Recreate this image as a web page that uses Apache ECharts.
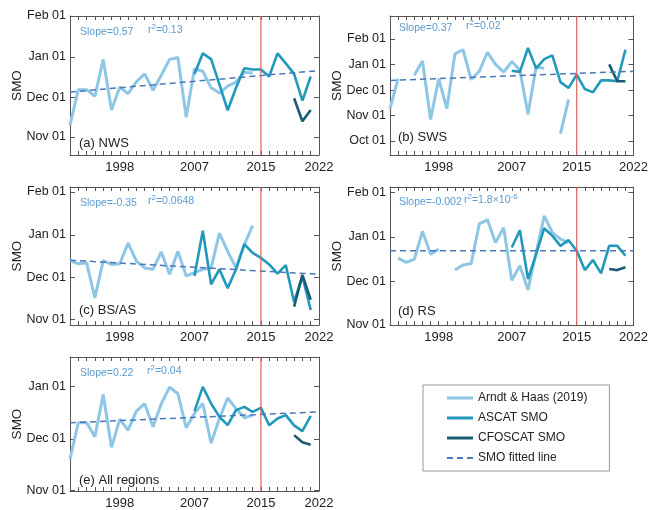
<!DOCTYPE html>
<html>
<head>
<meta charset="utf-8">
<script src="https://cdn.jsdelivr.net/npm/echarts@6/dist/echarts.min.js"></script>
<style>
html,body{margin:0;padding:0;background:#fff;}
#chart{width:651px;height:510px;}
</style>
</head>
<body>
<div id="chart"></div>
<script>
// ---------------- DATA ----------------
const ahYears = [1992,1993,1994,1995,1996,1997,1998,1999,2000,2001,2002,2003,2004,2005,2006,2007,2008,2009,2010,2011,2012,2013,2014];
const ascatYears = [2007,2008,2009,2010,2011,2012,2013,2014,2015,2016,2017,2018,2019,2020,2021];
const cfoYears = [2019,2020,2021];
const fitYears = [1992,2022];
const xLabelYears = [1998,2007,2015,2022];
const tickYears = [1992,1993,1994,1995,1996,1997,1998,1999,2000,2001,2002,2003,2004,2005,2006,2007,2008,2009,2010,2011,2012,2013,2014,2015,2016,2017,2018,2019,2020,2021,2022];
const breakYear = 2015;

// SMO as day of year (Oct 01 = 274 ... Feb 01 = 397)
const monthTicks = [274,305,335,366,397];
const monthLabels = ['Oct 01','Nov 01','Dec 01','Jan 01','Feb 01'];

// (a) NWS
const ahNWS = [314,341,341,336,364,325.5,343,338,347,353,340.5,352,364,365.5,320,356.8,355,342.4,338.4,343.7,346.8,354.2,353.7];
const ascatNWS = [352.9,368.6,364.2,345,325.3,342.4,357.3,356.3,356.3,351,368.6,361,353,332.7,351];
const cfoNWS = [334.5,317,325.5];
const fitNWS = [339.2,355.5];
// (b) SWS
const ahSWS = [312.9,349,null,353.2,370.5,299.8,349,312.9,379,384,348,358,381,366.4,357,369.7,359.4,306.2,363.5,361.5,null,282.8,324];
const ascatSWS = [358.6,357.3,386.2,361.5,372.6,377.2,344.9,337.9,354,336.6,332.6,347,347,346,384];
const cfoSWS = [366.4,346,346];
const fitSWS = [347,358];
// (c) BS/AS
const ahBS = [347.4,345,345.7,320.3,347.4,344.5,345,360,347,342,341,353.6,337.4,354,336.2,338.6,341,342,367.2,354,342,358.8,372.7];
const ascatBS = [336.2,368.9,330.2,341,327.4,341,359.3,352.9,349.3,344.5,337.9,344,317.4,336,311.6];
const cfoBS = [314,337,319];
const fitBS = [347.6,337.4];
// (d) RS
const ahRS = [null,351.3,348.3,350.6,369.8,354,357.5,null,343,346.5,347.6,375,377.8,362,372.4,336,346,329.3,355,380.5,369,364.4,362];
const ascatRS = [358.6,370.6,336.8,354,372,366.7,359.8,363.7,356.4,343,350,340.7,359.8,359.8,352.9];
const cfoRS = [343.7,343,344.9];
const fitRS = [356.4,356.4];
// (e) All regions
const ahALL = [323.3,344.5,344.5,336.4,361,330.2,346.6,340.2,351.3,355.7,342.2,355.7,365.4,361.5,341.6,350,355.8,332.5,347,359,352.8,347.4,349];
const ascatALL = [351.3,365.5,355.8,348,343.1,351.9,353.8,350.9,353.2,343.1,347,349,343,339.6,348.5];
const cfoALL = [337.3,333.1,331.6];
const fitALL = [344.5,350.9];

const panelTitles = ['(a) NWS','(b) SWS','(c) BS/AS','(d) RS','(e) All regions'];
const slopeTexts = ['Slope=0.57','Slope=0.37','Slope=-0.35','Slope=-0.002','Slope=0.22'];
const r2Texts = ['=0.13','=0.02','=0.0648','=1.8\u00d710','=0.04'];
const r2Exp = ['','','','-6',''];
const seriesNames = ['Arndt & Haas (2019)','ASCAT SMO','CFOSCAT SMO','SMO fitted line'];

// ---------------- LAYOUT / STYLE ----------------
const FONT = 'Liberation Sans, Arial, Helvetica, sans-serif';
const C_AH = '#8ec6e6', C_ASCAT = '#2199bb', C_CFO = '#1b5c72', C_FIT = '#4a78b8', C_RED = '#e06060', C_TXT = '#5a9bd0';
const AXC = '#555';
const layout = [
  {left:70, top:16, width:249, height:139, yMin:291.3, yMax:397, ticks:[305,335,366,397], title:[79,145], slope:[80,33], r2:[148,33]},
  {left:390, top:16, width:249, height:139, yMin:257, yMax:424.7, ticks:[274,305,335,366,397], title:[398,139], slope:[399,29], r2:[466,29]},
  {left:70, top:187, width:249, height:138, yMin:300.7, yMax:400.6, ticks:[305,335,366,397], title:[79,312], slope:[80,204], r2:[148,204]},
  {left:390, top:187, width:249, height:138, yMin:305, yMax:400.5, ticks:[305,335,366,397], title:[398,313], slope:[399,203], r2:[464,203]},
  {left:70, top:357, width:249, height:138, yMin:304.6, yMax:383, ticks:[305,335,366], title:[79,482], slope:[80,374], r2:[147,374]}
];
const panelData = [
  [ahNWS, ascatNWS, cfoNWS, fitNWS],
  [ahSWS, ascatSWS, cfoSWS, fitSWS],
  [ahBS, ascatBS, cfoBS, fitBS],
  [ahRS, ascatRS, cfoRS, fitRS],
  [ahALL, ascatALL, cfoALL, fitALL]
];

function lbl(v){ const i = monthTicks.indexOf(Math.round(v)); return i>=0 ? monthLabels[i] : ''; }
function pairs(xs, ys){ return xs.map((x,i)=>[x, ys[i]]); }

const grid=[], xAxis=[], yAxis=[], series=[], graphic=[];
layout.forEach((L, p) => {
  grid.push({left:L.left, top:L.top, width:L.width, height:L.height, containLabel:false});
  xAxis.push({type:'value', gridIndex:p, min:1992, max:2022, position:'bottom',
    axisLine:{show:true, onZero:false, lineStyle:{color:AXC, width:1}},
    axisTick:{show:true, inside:true, length:4, customValues:tickYears, lineStyle:{color:AXC}},
    axisLabel:{show:true, customValues:xLabelYears, formatter:(v)=>String(v), margin:6, fontSize:13, fontFamily:FONT, color:'#222', showMinLabel:true, showMaxLabel:true},
    splitLine:{show:false}});
  xAxis.push({type:'value', gridIndex:p, min:1992, max:2022, position:'top',
    axisLine:{show:true, onZero:false, lineStyle:{color:AXC, width:1}},
    axisTick:{show:true, inside:true, length:4, customValues:tickYears, lineStyle:{color:AXC}},
    axisLabel:{show:false}, splitLine:{show:false}});
  yAxis.push({type:'value', gridIndex:p, min:L.yMin, max:L.yMax, position:'left',
    name:'SMO', nameLocation:'middle', nameGap:46, nameRotate:90, nameMoveOverlap:false,
    nameTextStyle:{fontSize:13.5, fontFamily:FONT, color:'#222'},
    axisLine:{show:true, onZero:false, lineStyle:{color:AXC, width:1}},
    axisTick:{show:true, inside:true, length:5, customValues:L.ticks, lineStyle:{color:AXC}},
    axisLabel:{show:true, customValues:L.ticks, formatter:lbl, margin:4, fontSize:12.5, fontFamily:FONT, color:'#222', showMinLabel:true, showMaxLabel:true},
    splitLine:{show:false}});
  yAxis.push({type:'value', gridIndex:p, min:L.yMin, max:L.yMax, position:'right',
    axisLine:{show:true, onZero:false, lineStyle:{color:AXC, width:1}},
    axisTick:{show:true, inside:true, length:5, customValues:L.ticks, lineStyle:{color:AXC}},
    axisLabel:{show:false}, splitLine:{show:false}});

  const [ah, asc, cfo, fit] = panelData[p];
  const xi = 2*p, yi = 2*p;
  series.push({name:seriesNames[0], type:'line', xAxisIndex:xi, yAxisIndex:yi, data:pairs(ahYears, ah),
    symbol:'none', connectNulls:false, lineStyle:{color:C_AH, width:3}, itemStyle:{color:C_AH}, z:2});
  series.push({name:seriesNames[1], type:'line', xAxisIndex:xi, yAxisIndex:yi, data:pairs(ascatYears, asc),
    symbol:'none', lineStyle:{color:C_ASCAT, width:2.6}, itemStyle:{color:C_ASCAT}, z:3});
  series.push({name:seriesNames[2], type:'line', xAxisIndex:xi, yAxisIndex:yi, data:pairs(cfoYears, cfo),
    symbol:'none', lineStyle:{color:C_CFO, width:2.6}, itemStyle:{color:C_CFO}, z:4});
  series.push({name:seriesNames[3], type:'line', xAxisIndex:xi, yAxisIndex:yi, data:pairs(fitYears, fit),
    symbol:'none', lineStyle:{color:C_FIT, width:1.5, type:[6,4]}, itemStyle:{color:C_FIT}, z:5});
  // 2015 vertical reference line, spanning the y-axis range
  series.push({name:'ref2015_'+p, type:'line', xAxisIndex:xi, yAxisIndex:yi,
    data:[[breakYear, L.yMin],[breakYear, L.yMax]], symbol:'none', silent:true,
    lineStyle:{color:C_RED, width:1.2, type:'solid'}, itemStyle:{color:C_RED}, z:6});

  graphic.push({type:'text', left:L.title[0], top:L.title[1]-8, silent:true,
    style:{text:panelTitles[p], fontSize:13, fontFamily:FONT, fill:'#222'}});
  graphic.push({type:'text', left:L.slope[0], top:L.slope[1]-6, silent:true,
    style:{text:slopeTexts[p], fontSize:10.5, fontFamily:FONT, fill:C_TXT}});
  const r2rich = r2Exp[p] ? '{b|r}{s|2}{b|'+r2Texts[p]+'}{s|'+r2Exp[p]+'}' : '{b|r}{s|2}{b|'+r2Texts[p]+'}';
  graphic.push({type:'text', left:L.r2[0], top:L.r2[1]-10, silent:true,
    style:{text:r2rich, fontFamily:FONT, fill:C_TXT,
      rich:{b:{fontSize:10.5, lineHeight:16, verticalAlign:'bottom', fill:C_TXT, fontFamily:FONT, padding:[0,0,1,0]},
            s:{fontSize:8, lineHeight:10, verticalAlign:'bottom', fill:C_TXT, fontFamily:FONT, padding:[0,0,6,0]}}}});
});

const dashIcon = 'path://M0,0h6v2h-6z M10,0h6v2h-6z M20,0h6v2h-6z';
const chart = echarts.init(document.getElementById('chart'), null, {renderer:'canvas'});
chart.setOption({
  animation:false,
  backgroundColor:'#fff',
  textStyle:{fontFamily:FONT},
  grid, xAxis, yAxis, series, graphic,
  legend:{show:true, orient:'vertical', left:423, top:385,
    data:[
      {name:seriesNames[0], icon:'rect', itemStyle:{color:C_AH}},
      {name:seriesNames[1], icon:'rect', itemStyle:{color:C_ASCAT}},
      {name:seriesNames[2], icon:'rect', itemStyle:{color:C_CFO}},
      {name:seriesNames[3], icon:dashIcon, itemStyle:{color:C_FIT}}
    ],
    itemWidth:26, itemHeight:3, itemGap:6, padding:[6,22,6,24],
    borderColor:'#999', borderWidth:1, backgroundColor:'#fff', selectedMode:false,
    textStyle:{fontSize:12, fontFamily:FONT, color:'#222', lineHeight:14}}
});
</script>
</body>
</html>
